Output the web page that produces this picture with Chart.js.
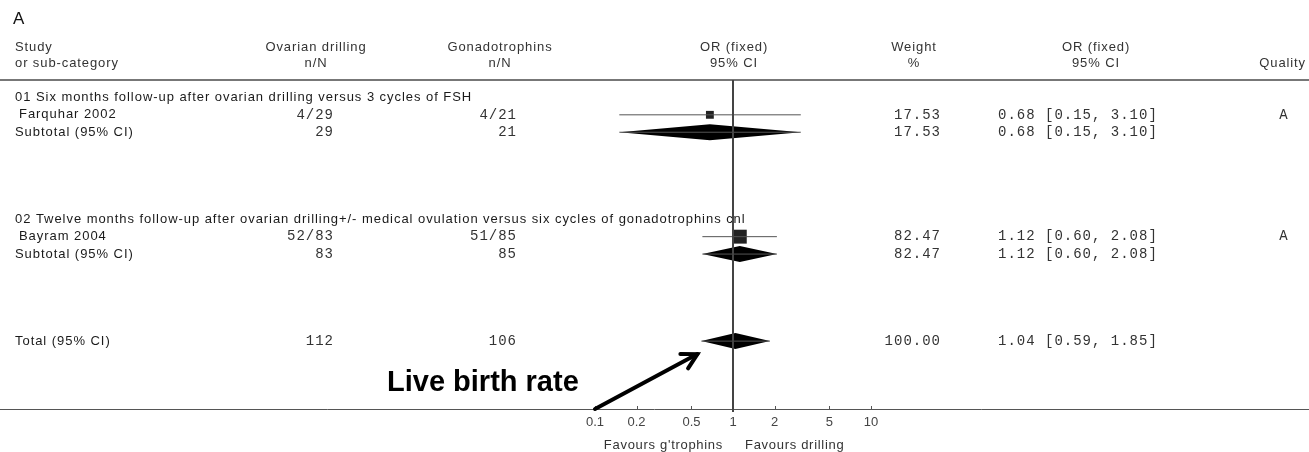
<!DOCTYPE html>
<html>
<head>
<meta charset="utf-8">
<script src="https://cdn.jsdelivr.net/npm/chart.js@4"></script>
<style>
  body { margin: 0; background: #fff; }
  #wrap { width: 1309px; height: 452px; position: relative; }
</style>
</head>
<body>
<div id="wrap"><canvas id="forest"></canvas></div>
<script>
// linhas da tabela (de cima para baixo)
const rowLabels = [
  '01 Six months follow-up after ovarian drilling versus 3 cycles of FSH',
  'Farquhar 2002',
  'Subtotal (95% CI)',
  '02 Twelve months follow-up after ovarian drilling+/- medical ovulation versus six cycles of gonadotrophins cnl',
  'Bayram 2004',
  'Subtotal (95% CI)',
  'Total (95% CI)'
];
const rowType = ['group', 'study', 'sub', 'group', 'study', 'sub', 'total'];
const rowPos = [1, 2, 3, 8, 9, 10, 15];
const drillingNN = ['', '4/29', '29', '', '52/83', '83', '112'];
const gonadNN = ['', '4/21', '21', '', '51/85', '85', '106'];
const weights = [null, 17.53, 17.53, null, 82.47, 82.47, 100.00];
const orEst = [null, 0.68, 0.68, null, 1.12, 1.12, 1.04];
const ciLow = [null, 0.15, 0.15, null, 0.60, 0.60, 0.59];
const ciHigh = [null, 3.10, 3.10, null, 2.08, 2.08, 1.85];
const quality = ['', 'A', '', '', 'A', '', ''];
const axisTicks = [0.1, 0.2, 0.5, 1, 2, 5, 10];

const SANS = '"Liberation Sans", Arial, sans-serif';
const MONO = '"Liberation Mono", "Courier New", monospace';

// linhas de IC e quadrados dos estudos
const ciSets = [];
const squares = [];
rowType.forEach((t, i) => {
  if (t === 'study') {
    ciSets.push({
      data: [{x: ciLow[i], y: rowPos[i]}, {x: ciHigh[i], y: rowPos[i]}],
      showLine: true, borderColor: '#555', borderWidth: 1, pointRadius: 0
    });
    squares.push({x: orEst[i], y: rowPos[i], w: weights[i]});
  }
});

const tablePlugin = {
  id: 'tablePlugin',
  beforeDatasetsDraw(chart) {
    const ctx = chart.ctx;
    const xs = chart.scales.x, ys = chart.scales.y;
    const W = chart.width;
    ctx.save();

    ctx.fillStyle = '#111';
    ctx.font = '17px ' + SANS;
    ctx.textBaseline = 'middle';
    ctx.textAlign = 'left';
    ctx.fillText('A', 13, 19);

    // cabecalho
    ctx.fillStyle = '#333';
    ctx.font = '13px ' + SANS;
    ctx.letterSpacing = '0.9px';
    const head = (txt, x, y, al) => { ctx.textAlign = al; ctx.fillText(txt, x, y); };
    head('Study', 15, 47, 'left');
    head('or sub-category', 15, 63, 'left');
    head('Ovarian drilling', 316, 47, 'center');
    head('n/N', 316, 63, 'center');
    head('Gonadotrophins', 500, 47, 'center');
    head('n/N', 500, 63, 'center');
    head('OR (fixed)', 734, 47, 'center');
    head('95% CI', 734, 63, 'center');
    head('Weight', 914, 47, 'center');
    head('%', 914, 63, 'center');
    head('OR (fixed)', 1096, 47, 'center');
    head('95% CI', 1096, 63, 'center');
    head('Quality', 1306, 63, 'right');

    ctx.strokeStyle = '#777';
    ctx.lineWidth = 2;
    ctx.beginPath(); ctx.moveTo(0, 80); ctx.lineTo(W, 80); ctx.stroke();

    // linhas
    rowLabels.forEach((lab, i) => {
      const y = ys.getPixelForValue(rowPos[i]);
      ctx.font = '13px ' + SANS;
      ctx.letterSpacing = '0.95px';
      ctx.fillStyle = '#1a1a1a';
      ctx.textAlign = 'left';
      ctx.fillText(lab, rowType[i] === 'study' ? 19 : 15, y);
      if (rowType[i] === 'group') return;
      ctx.font = '14px ' + MONO;
      ctx.letterSpacing = '1px';
      ctx.fillStyle = '#333';
      ctx.textAlign = 'right';
      ctx.fillText(drillingNN[i], 334, y);
      ctx.fillText(gonadNN[i], 517, y);
      ctx.fillText(weights[i].toFixed(2), 941, y);
      ctx.textAlign = 'left';
      ctx.fillText(orEst[i].toFixed(2) + ' [' + ciLow[i].toFixed(2) + ', ' + ciHigh[i].toFixed(2) + ']', 998, y);
      if (quality[i]) { ctx.textAlign = 'center'; ctx.fillText(quality[i], 1284, y); }
    });

    // diamantes (subtotais e total)
    ctx.fillStyle = '#000';
    rowType.forEach((t, i) => {
      if (t !== 'sub' && t !== 'total') return;
      const y = ys.getPixelForValue(rowPos[i]);
      const lo = xs.getPixelForValue(ciLow[i]);
      const hi = xs.getPixelForValue(ciHigh[i]);
      const mid = xs.getPixelForValue(orEst[i]);
      ctx.beginPath();
      ctx.moveTo(lo, y); ctx.lineTo(mid, y - 8); ctx.lineTo(hi, y); ctx.lineTo(mid, y + 8);
      ctx.closePath(); ctx.fill();
      ctx.strokeStyle = '#555'; ctx.lineWidth = 1;
      ctx.beginPath(); ctx.moveTo(lo, y); ctx.lineTo(hi, y); ctx.stroke();
    });
    ctx.restore();
  },
  afterDraw(chart) {
    const ctx = chart.ctx;
    const xs = chart.scales.x, ys = chart.scales.y;
    const a = chart.chartArea;
    ctx.save();
    // eixo horizontal e marcas
    ctx.strokeStyle = '#555';
    ctx.lineWidth = 1;
    ctx.beginPath(); ctx.moveTo(0, a.bottom + 0.5); ctx.lineTo(chart.width, a.bottom + 0.5); ctx.stroke();
    xs.ticks.forEach(t => {
      const x = Math.round(xs.getPixelForValue(t.value)) + 0.5;
      ctx.beginPath(); ctx.moveTo(x, a.bottom - 3); ctx.lineTo(x, a.bottom); ctx.stroke();
    });
    // linha de nulidade em 1
    const x1 = Math.round(xs.getPixelForValue(1));
    ctx.strokeStyle = '#444';
    ctx.lineWidth = 2;
    ctx.beginPath(); ctx.moveTo(x1, a.top); ctx.lineTo(x1, a.bottom + 3); ctx.stroke();

    ctx.fillStyle = '#333';
    ctx.font = '13px ' + SANS;
    ctx.letterSpacing = '0.7px';
    ctx.textBaseline = 'middle';
    ctx.textAlign = 'right';
    ctx.fillText("Favours g'trophins", x1 - 10, 445);
    ctx.textAlign = 'left';
    ctx.fillText('Favours drilling', x1 + 12, 445);

    // anotacao
    const ti = rowType.indexOf('total');
    const tipX = xs.getPixelForValue(ciLow[ti]) - 4;
    const tipY = ys.getPixelForValue(rowPos[ti]) + 13;
    const sx = xs.getPixelForValue(0.1), sy = a.bottom;
    ctx.strokeStyle = '#000';
    ctx.lineWidth = 4;
    ctx.lineCap = 'round';
    ctx.beginPath(); ctx.moveTo(sx, sy); ctx.lineTo(tipX, tipY); ctx.stroke();
    const ang = Math.atan2(tipY - sy, tipX - sx);
    ctx.beginPath();
    ctx.moveTo(tipX - 17 * Math.cos(ang - 0.5), tipY - 17 * Math.sin(ang - 0.5));
    ctx.lineTo(tipX, tipY);
    ctx.lineTo(tipX - 17 * Math.cos(ang + 0.5), tipY - 17 * Math.sin(ang + 0.5));
    ctx.stroke();
    ctx.letterSpacing = '0px';
    ctx.fillStyle = '#000';
    ctx.font = 'bold 29px ' + SANS;
    ctx.textAlign = 'left';
    ctx.fillText('Live birth rate', 387, 383);
    ctx.restore();
  }
};

const chart = new Chart(document.getElementById('forest').getContext('2d'), {
  type: 'scatter',
  data: {
    datasets: [
      ...ciSets,
      {
        data: squares,
        pointStyle: 'rect',
        backgroundColor: '#222',
        borderColor: '#222',
        borderWidth: 0,
        pointRadius: c => 4.4 + 0.066 * c.raw.w
      }
    ]
  },
  options: {
    responsive: true,
    maintainAspectRatio: false,
    animation: false,
    layout: { padding: { left: 595, right: 438, top: 80, bottom: 0 } },
    plugins: { legend: { display: false }, tooltip: { enabled: false } },
    scales: {
      x: {
        type: 'logarithmic',
        min: 0.1,
        max: 10,
        afterBuildTicks: s => { s.ticks = axisTicks.map(v => ({ value: v })); },
        afterFit: s => { s.height = 43; },
        grid: { display: false, drawTicks: false },
        border: { display: false },
        ticks: {
          callback: v => String(v),
          color: '#444',
          font: { family: SANS, size: 13 },
          padding: 6,
          maxRotation: 0,
          autoSkip: false
        }
      },
      y: { display: false, min: 0, max: 18.9, reverse: true }
    }
  },
  plugins: [tablePlugin]
});
</script>
</body>
</html>
